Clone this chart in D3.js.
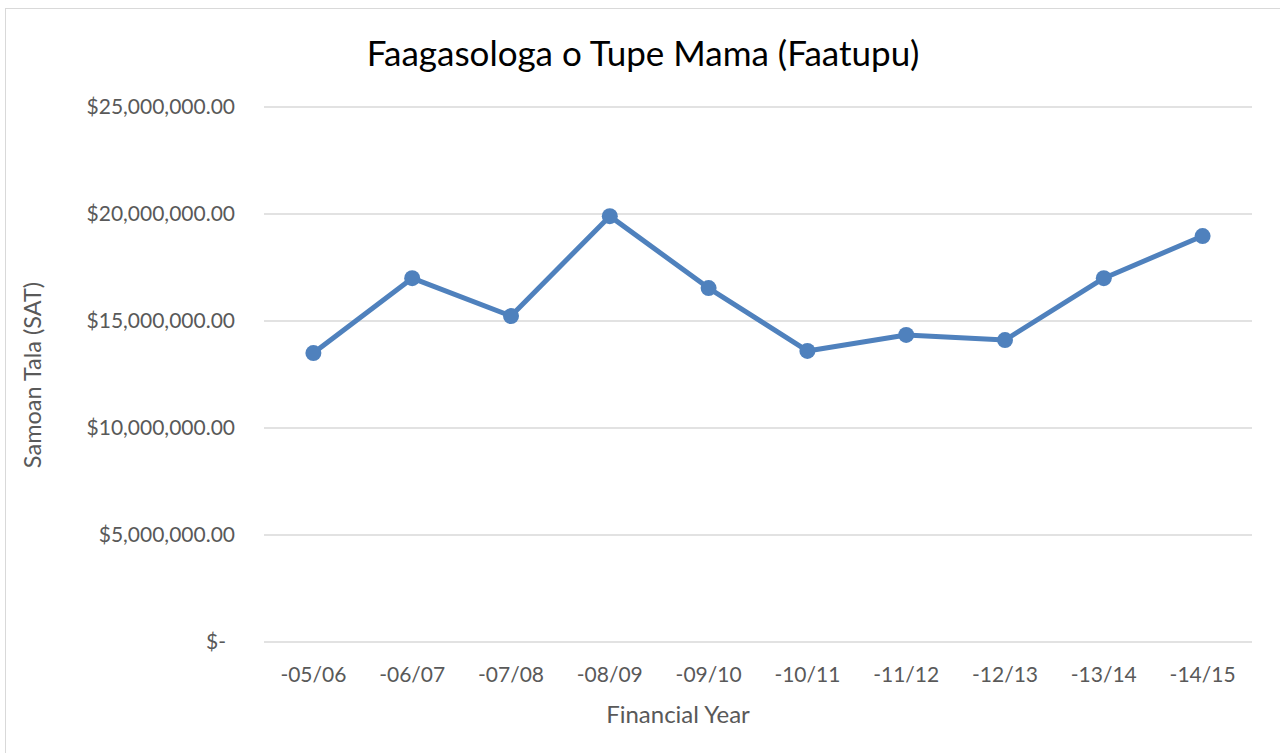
<!DOCTYPE html>
<html>
<head>
<meta charset="utf-8">
<script src="https://cdn.jsdelivr.net/npm/d3@7"></script>
<style>
  body { margin: 0; background: #fff; }
  text { font-family: Lato, "Open Sans", sans-serif; }
</style>
</head>
<body>
<div id="chart"></div>
<script>
// financial years and contributions (SAT)
const years = ["-05/06", "-06/07", "-07/08", "-08/09", "-09/10", "-10/11", "-11/12", "-12/13", "-13/14", "-14/15"];
const amounts = [13500000, 17000000, 15230000, 19900000, 16540000, 13600000, 14350000, 14110000, 17000000, 18970000];
const yTicks = [0, 5000000, 10000000, 15000000, 20000000, 25000000];

const W = 1280, H = 753;
const margin = {top: 107, right: 28, bottom: 111, left: 264};

const svg = d3.select("#chart").append("svg")
  .attr("width", W)
  .attr("height", H);

// outer chart border
svg.append("rect")
  .attr("x", 5.5).attr("y", 8.5)
  .attr("width", W).attr("height", H)
  .attr("fill", "none")
  .attr("stroke", "#d9d9d9")
  .attr("stroke-width", 1);

const x = d3.scaleBand()
  .domain(years)
  .range([margin.left, W - margin.right]);

const y = d3.scaleLinear()
  .domain([0, 25000000])
  .range([H - margin.bottom, margin.top]);

// gridlines
svg.append("g").selectAll("line")
  .data(yTicks)
  .enter().append("line")
  .attr("x1", margin.left).attr("x2", W - margin.right)
  .attr("y1", d => y(d)).attr("y2", d => y(d))
  .attr("stroke", "#d9d9d9")
  .attr("stroke-width", 1.5);

const fmt = d3.format(",.2f");
svg.append("g").selectAll("text")
  .data(yTicks)
  .enter().append("text")
  .attr("x", d => d === 0 ? 226 : 235)
  .attr("y", d => y(d) + 7)
  .attr("text-anchor", "end")
  .attr("font-size", "21px")
  .attr("fill", "#595959")
  .text(d => d === 0 ? "$-" : "$" + fmt(d));

svg.append("g").selectAll("text")
  .data(years)
  .enter().append("text")
  .attr("x", d => x(d) + x.bandwidth() / 2)
  .attr("y", 682)
  .attr("text-anchor", "middle")
  .attr("font-size", "21px")
  .attr("fill", "#595959")
  .text(d => d);

// line + markers
const line = d3.line()
  .x((d, i) => x(years[i]) + x.bandwidth() / 2)
  .y(d => y(d));

svg.append("path")
  .datum(amounts)
  .attr("d", line)
  .attr("fill", "none")
  .attr("stroke", "#4f81bd")
  .attr("stroke-width", 5)
  .attr("stroke-linejoin", "round");

svg.append("g").selectAll("circle")
  .data(amounts)
  .enter().append("circle")
  .attr("cx", (d, i) => x(years[i]) + x.bandwidth() / 2)
  .attr("cy", d => y(d))
  .attr("r", 8)
  .attr("fill", "#4f81bd");

// titles
svg.append("text")
  .attr("x", 643)
  .attr("y", 66)
  .attr("text-anchor", "middle")
  .attr("font-size", "35px")
  .attr("fill", "#000")
  .text("Faagasologa o Tupe Mama (Faatupu)");

svg.append("text")
  .attr("x", 678)
  .attr("y", 723)
  .attr("text-anchor", "middle")
  .attr("font-size", "24px")
  .attr("fill", "#595959")
  .text("Financial Year");

svg.append("text")
  .attr("transform", "translate(41,375) rotate(-90)")
  .attr("text-anchor", "middle")
  .attr("font-size", "23.5px")
  .attr("fill", "#595959")
  .text("Samoan Tala (SAT)");
</script>
</body>
</html>
